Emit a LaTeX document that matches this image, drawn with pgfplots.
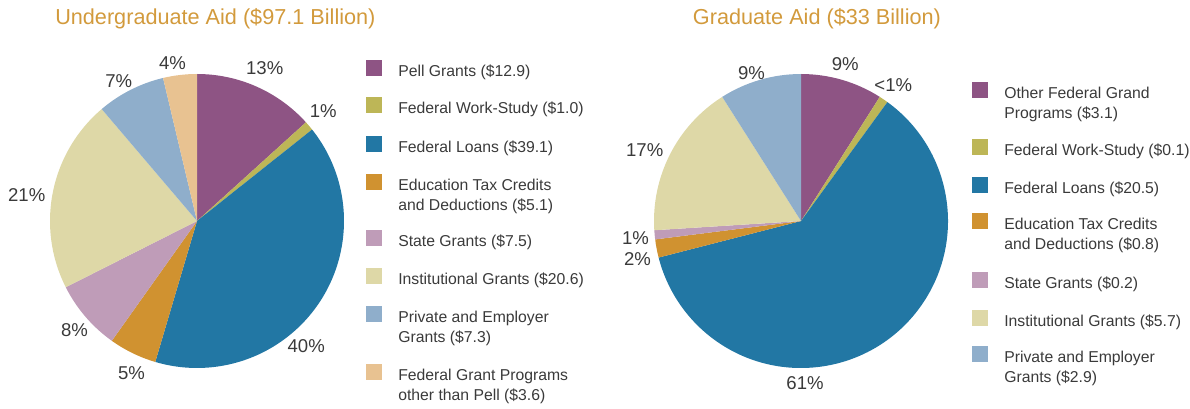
\documentclass[border=0pt]{standalone}
\usepackage{pgfplots}
\pgfplotsset{compat=1.18}
\usepackage{fontspec}
\setmainfont{Liberation Sans}
\definecolor{cPell}{HTML}{8E5484}
\definecolor{cWS}{HTML}{BDB657}
\definecolor{cLoan}{HTML}{2277A4}
\definecolor{cTax}{HTML}{D09230}
\definecolor{cState}{HTML}{BF9CB8}
\definecolor{cInst}{HTML}{DED8A7}
\definecolor{cPriv}{HTML}{8FAECB}
\definecolor{cOther}{HTML}{E8C291}
\definecolor{txt}{HTML}{3A3A3A}
\definecolor{ttl}{HTML}{D29A3C}
\tikzset{
  legtxt/.style={anchor=base west, inner sep=0pt, text=txt, font=\fontsize{11.2pt}{14.2pt}\selectfont},
  pct/.style={anchor=center, inner sep=0pt, text=txt, font=\fontsize{13.2pt}{15pt}\selectfont},
  ttlsty/.style={anchor=base west, inner sep=0pt, text=ttl, font=\fontsize{15.4pt}{18pt}\selectfont}
}
% pie: #1 cx, #2 cy, #3 radius, #4 total, #5 list value/colour (clockwise from top)
\newcommand\pie[5]{%
  \gdef\cum{0}%
  \foreach \v/\c in {#5} {%
    \pgfmathsetmacro\a{90-\cum/#4*360}%
    \pgfmathsetmacro\b{90-(\cum+\v)/#4*360}%
    \pgfmathsetmacro\xa{#1+#3*cos(\a)}%
    \pgfmathsetmacro\ya{#2+#3*sin(\a)}%
    \edef\tmp{\noexpand\fill[\c] (axis cs:#1,#2) -- (axis cs:\xa,\ya) arc[start angle=\a, end angle=\b, radius=#3] -- cycle;}%
    \tmp
    \pgfmathsetmacro\n{\cum+\v}%
    \global\let\cum\n
  }%
}
% legend entry: #1 square left x, #2 square centre y (from top), #3 colour, #4 line 1, #5 line 2
\newcommand\legentry[5]{%
  \pgfmathsetmacro\ya{409-#2-8}\pgfmathsetmacro\yb{409-#2+8}%
  \pgfmathsetmacro\xb{#1+16}\pgfmathsetmacro\xt{#1+32}%
  \pgfmathsetmacro\yl{409-#2-8.7}\pgfmathsetmacro\yll{409-#2-28.7}%
  \edef\tmp{\noexpand\fill[#3] (axis cs:#1,\ya) rectangle (axis cs:\xb,\yb);
    \noexpand\node[legtxt] at (axis cs:\xt,\yl) {\unexpanded{#4}};
    \noexpand\node[legtxt] at (axis cs:\xt,\yll) {\unexpanded{#5}};}%
  \tmp
}
% percentage label: #1 x, #2 y (from top), #3 text
\newcommand\plabel[3]{%
  \pgfmathsetmacro\yl{409-#2}%
  \edef\tmp{\noexpand\node[pct] at (axis cs:#1,\yl) {\unexpanded{#3}};}%
  \tmp
}
\begin{document}
\begin{tikzpicture}
\begin{axis}[x=0.025cm, y=0.025cm, xmin=0, xmax=1190, ymin=0, ymax=409,
  hide axis, clip=false]
\path (axis cs:0,0) rectangle (axis cs:1190,409);
% Undergraduate aid, billions of dollars
\pie{197}{188}{147}{97.1}{12.9/cPell,1.0/cWS,39.1/cLoan,5.1/cTax,7.5/cState,20.6/cInst,7.3/cPriv,3.6/cOther}
% Graduate aid, shares as drawn (percent)
\pie{801}{188}{147}{100}{9/cPell,1/cWS,61/cLoan,2/cTax,1/cState,17/cInst,9/cPriv}
% titles
\node[ttlsty] at (axis cs:55,384.7) {Undergraduate Aid (\$97.1 Billion)};
\node[ttlsty] at (axis cs:692.7,384.7) {Graduate Aid (\$33 Billion)};
% labels undergraduate
\plabel{264.7}{68.3}{13\%}
\plabel{323.3}{110.7}{1\%}
\plabel{306.2}{345.7}{40\%}
\plabel{131.5}{373.3}{5\%}
\plabel{74.5}{330.3}{8\%}
\plabel{26.7}{195}{21\%}
\plabel{118.8}{81.3}{7\%}
\plabel{172.5}{63.3}{4\%}
% labels graduate
\plabel{845.3}{64.5}{9\%}
\plabel{893.3}{85}{<1\%}
\plabel{751.5}{73}{9\%}
\plabel{644.7}{150}{17\%}
\plabel{635.5}{237.7}{1\%}
\plabel{637.5}{259.3}{2\%}
\plabel{805}{383.3}{61\%}
% legend undergraduate
\legentry{366}{68}{cPell}{Pell Grants (\$12.9)}{}
\legentry{366}{105}{cWS}{Federal Work-Study (\$1.0)}{}
\legentry{366}{144}{cLoan}{Federal Loans (\$39.1)}{}
\legentry{366}{182}{cTax}{Education Tax Credits}{and Deductions (\$5.1)}
\legentry{366}{238}{cState}{State Grants (\$7.5)}{}
\legentry{366}{276}{cInst}{Institutional Grants (\$20.6)}{}
\legentry{366}{314}{cPriv}{Private and Employer}{Grants (\$7.3)}
\legentry{366}{372}{cOther}{Federal Grant Programs}{other than Pell (\$3.6)}
% legend graduate
\legentry{972}{90}{cPell}{Other Federal Grand}{Programs (\$3.1)}
\legentry{972}{147}{cWS}{Federal Work-Study (\$0.1)}{}
\legentry{972}{185}{cLoan}{Federal Loans (\$20.5)}{}
\legentry{972}{221}{cTax}{Education Tax Credits}{and Deductions (\$0.8)}
\legentry{972}{280}{cState}{State Grants (\$0.2)}{}
\legentry{972}{318}{cInst}{Institutional Grants (\$5.7)}{}
\legentry{972}{354}{cPriv}{Private and Employer}{Grants (\$2.9)}
\end{axis}
\end{tikzpicture}
\end{document}
